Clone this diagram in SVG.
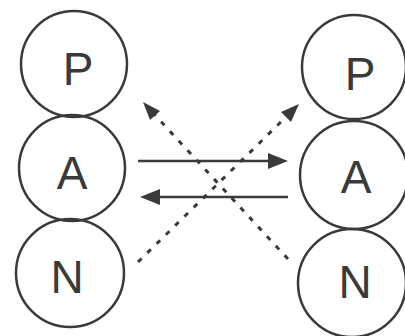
<svg xmlns="http://www.w3.org/2000/svg" width="405" height="336" viewBox="0 0 405 336">
<defs>
<style>
.c{fill:none;stroke:#3a3a3a;stroke-width:2.5}
.t{font-family:"Liberation Sans",Arial,sans-serif;font-size:46px;fill:#3a3a3a;text-anchor:middle}
.s{stroke:#3a3a3a;stroke-width:2.5;fill:none}
.d{stroke:#3a3a3a;stroke-width:3;fill:none;stroke-dasharray:5 8}
</style>
<marker id="ah" markerWidth="8" markerHeight="8" refX="7" refY="4" orient="auto" markerUnits="userSpaceOnUse" viewBox="0 0 8 8">
<path d="M0,0 L8,4 L0,8 Z" fill="#3a3a3a"/>
</marker>
<marker id="ahd" markerWidth="8" markerHeight="8" refX="7" refY="4" orient="auto" markerUnits="userSpaceOnUse" viewBox="0 0 8 8">
<path d="M0,0 L8,4 L0,8 Z" fill="#3a3a3a"/>
</marker>
</defs>
<rect width="405" height="336" fill="#ffffff"/>
<g id="left-P"><circle class="c" cx="74" cy="64" r="53"/><text class="t" x="78" y="85">P</text></g>
<g id="left-A"><circle class="c" cx="72" cy="168" r="53"/><text class="t" x="72" y="189">A</text></g>
<g id="left-N"><circle class="c" cx="70" cy="273" r="54"/><text class="t" x="67" y="293">N</text></g>
<g id="right-P"><circle class="c" cx="354" cy="67" r="52"/><text class="t" x="360" y="90">P</text></g>
<g id="right-A"><circle class="c" cx="354" cy="175" r="54"/><text class="t" x="356" y="193">A</text></g>
<g id="right-N"><circle class="c" cx="352" cy="283" r="54"/><text class="t" x="355" y="298">N</text></g>
<g id="connectors">
<line class="s" x1="138" y1="161" x2="270" y2="161"/>
<path d="M288,161 L268,153 L268,169 Z" fill="#3a3a3a"/>
<line class="s" x1="288" y1="197" x2="158" y2="197"/>
<path d="M140,197 L160,189 L160,205 Z" fill="#3a3a3a"/>
<line class="d" x1="138" y1="262" x2="287" y2="116"/>
<path d="M299,104 L281,112 L291,122 Z" fill="#3a3a3a"/>
<line class="d" x1="288" y1="259" x2="154" y2="114"/>
<path d="M143,102 L150,120 L160,111 Z" fill="#3a3a3a"/>
</g>
</svg>
